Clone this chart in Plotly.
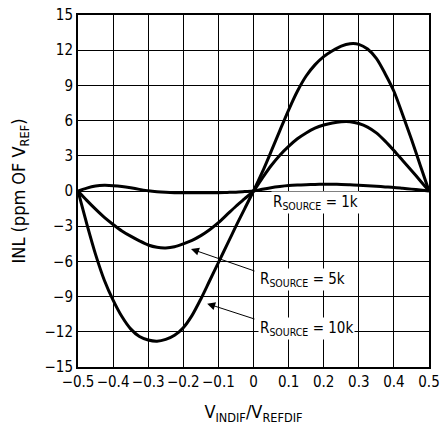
import plotly.graph_objects as go

# input voltage (fraction of full scale), 0.025 steps
x_vals = [-0.5, -0.475, -0.45, -0.425, -0.4, -0.375, -0.35, -0.325, -0.3, -0.275,
          -0.25, -0.225, -0.2, -0.175, -0.15, -0.125, -0.1, -0.075, -0.05, -0.025,
          0, 0.025, 0.05, 0.075, 0.1, 0.125, 0.15, 0.175, 0.2, 0.225,
          0.25, 0.275, 0.3, 0.325, 0.35, 0.375, 0.4, 0.425, 0.45, 0.475, 0.5]

# INL curves (ppm of VREF)
inl_1k = [0, 0.25, 0.42, 0.48, 0.45, 0.38, 0.27, 0.14, 0.02, -0.06,
          -0.11, -0.14, -0.15, -0.15, -0.15, -0.14, -0.14, -0.12, -0.1, -0.05,
          0, 0.15, 0.28, 0.38, 0.46, 0.51, 0.54, 0.56, 0.57, 0.57,
          0.56, 0.54, 0.5, 0.45, 0.4, 0.35, 0.3, 0.23, 0.16, 0.08, 0]
inl_5k = [0, -0.8, -1.55, -2.25, -2.85, -3.4, -3.85, -4.25, -4.6, -4.8,
          -4.85, -4.75, -4.5, -4.2, -3.8, -3.3, -2.7, -2.0, -1.3, -0.65,
          0, 1.1, 2.15, 3.05, 3.8, 4.45, 4.95, 5.35, 5.62, 5.8,
          5.9, 5.9, 5.75, 5.45, 4.95, 4.25, 3.45, 2.6, 1.75, 0.88, 0]
inl_10k = [0, -2.8, -5.4, -7.6, -9.3, -10.7, -11.75, -12.4, -12.7, -12.8,
           -12.65, -12.3, -11.65, -10.6, -9.2, -7.65, -6.1, -4.55, -3.0, -1.5,
           0, 1.6, 3.35, 5.15, 6.9, 8.5, 9.8, 10.75, 11.45, 11.95,
           12.35, 12.55, 12.5, 12.1, 11.3, 10.0, 8.5, 6.5, 4.4, 2.2, 0]

x_ticks = [-0.5, -0.4, -0.3, -0.2, -0.1, 0, 0.1, 0.2, 0.3, 0.4, 0.5]
x_tick_text = ["\u22120.5", "\u22120.4", "\u22120.3", "\u22120.2", "\u22120.1", "0",
               "0.1", "0.2", "0.3", "0.4", "0.5"]
y_ticks = [-15, -12, -9, -6, -3, 0, 3, 6, 9, 12, 15]

FONT = "DejaVu Sans Condensed, Liberation Sans Narrow, Liberation Sans, sans-serif"

fig = go.Figure()
for ys in [inl_1k, inl_5k, inl_10k]:
    fig.add_trace(go.Scatter(x=x_vals, y=ys, mode="lines", line_shape="spline",
                             line=dict(color="black", width=3, smoothing=0.8),
                             showlegend=False, hoverinfo="skip"))

# arrows
for tip, tail in [((-0.178, -4.94), (0.007, -6.86)), ((-0.132, -9.6), (0.007, -10.95))]:
    fig.add_annotation(x=tip[0], y=tip[1], ax=tail[0], ay=tail[1], axref="x", ayref="y",
                       text="", showarrow=True, arrowhead=2, arrowsize=1.6,
                       arrowwidth=1, arrowcolor="black")

# labels
labels = [("R<sub>SOURCE</sub> = 1k", 0.05, -1.0),
          ("R<sub>SOURCE</sub> = 5k", 0.012, -7.5),
          ("R<sub>SOURCE</sub> = 10k", 0.012, -11.7)]
for txt, lx, ly in labels:
    fig.add_annotation(x=lx, y=ly, text=txt, showarrow=False, xanchor="left",
                       bgcolor="white", borderpad=1,
                       font=dict(family=FONT, size=15, color="black"))

fig.update_layout(
    width=440, height=425,
    margin=dict(l=78, r=11, t=15, b=58),
    paper_bgcolor="white", plot_bgcolor="white",
    font=dict(family=FONT, size=15, color="black"),
)
fig.update_xaxes(range=[-0.5, 0.5], tickvals=x_ticks, ticktext=x_tick_text,
                 showgrid=True, gridcolor="black", gridwidth=1,
                 showline=True, linecolor="black", linewidth=2, mirror=True,
                 zeroline=False, ticks="", automargin=False, ticklabeloverflow="allow",
                 title=dict(text="V<sub>INDIF</sub>/V<sub>REFDIF</sub>", standoff=16))
fig.update_yaxes(range=[-15, 15], tickvals=y_ticks,
                 showgrid=True, gridcolor="black", gridwidth=1,
                 showline=True, linecolor="black", linewidth=2, mirror=True,
                 zeroline=False, ticks="", automargin=False, ticklabeloverflow="allow",
                 title=dict(text="INL (ppm OF V<sub>REF</sub>)", standoff=14))

# drop the default page margin so the 440x425 figure fills the window
fig.write_html("out.html", config={"displayModeBar": False},
               post_script="document.body.style.margin='0';document.body.style.overflow='hidden';")
